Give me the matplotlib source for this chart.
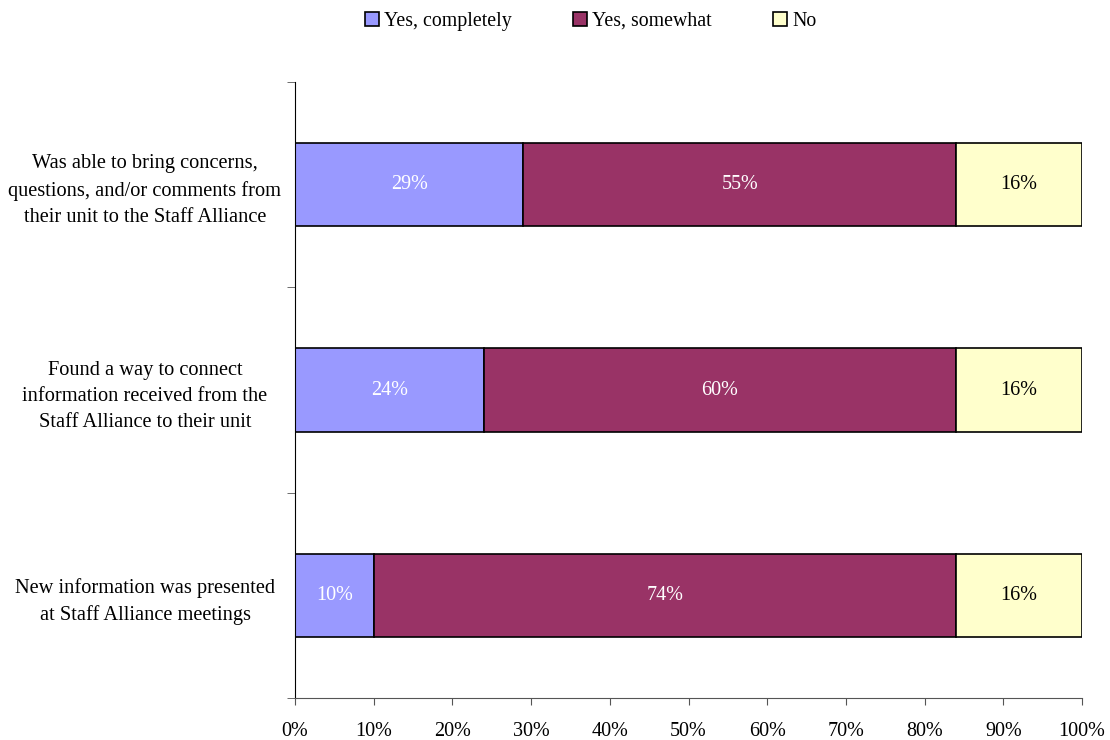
import numpy as np
import matplotlib.pyplot as plt

categories = [
    "New information was presented\nat Staff Alliance meetings",
    "Found a way to connect\ninformation received from the\nStaff Alliance to their unit",
    "Was able to bring concerns,\nquestions, and/or comments from\ntheir unit to the Staff Alliance",
]
series_names = ["Yes, completely", "Yes, somewhat", "No"]
yes_completely = [10, 24, 29]
yes_somewhat = [74, 60, 55]
no = [16, 16, 16]
colors = ["#9999FF", "#993366", "#FFFFCC"]
label_colors = ["white", "white", "black"]
x_ticks = [0, 10, 20, 30, 40, 50, 60, 70, 80, 90, 100]

plt.rcParams["font.family"] = ["Liberation Serif", "DejaVu Serif"]
plt.rcParams["font.size"] = 14

fig = plt.figure(figsize=(11.1, 7.4), dpi=100)
ax = fig.add_axes([295 / 1110, 1 - 698 / 740, 787 / 1110, 616 / 740])

y = np.arange(len(categories))
left = np.zeros(len(categories))
for vals, name, col, tcol in zip([yes_completely, yes_somewhat, no], series_names, colors, label_colors):
    vals = np.array(vals, dtype=float)
    ax.barh(y, vals, left=left, height=0.405, color=col, edgecolor="black",
            linewidth=1.2, label=name)
    for yi, l, v in zip(y, left, vals):
        ax.text(l + v / 2, yi, f"{int(v)}%", ha="center", va="center", color=tcol, fontsize=14.5)
    left += vals

ax.set_xlim(0, 100)
ax.set_ylim(-0.5, 2.5)
ax.set_xticks(x_ticks)
ax.set_xticklabels([f"{t}%" for t in x_ticks], fontsize=14.5)
ax.tick_params(axis="x", length=5, color="#555555", pad=12)
ax.set_yticks(y)
ax.set_yticklabels(categories, ha="center", linespacing=1.5, fontsize=14.7)
ax.tick_params(axis="y", which="major", length=0, pad=108)
ax.set_yticks([-0.5, 0.5, 1.5, 2.5], minor=True)
ax.tick_params(axis="y", which="minor", length=6, color="#555555")

for s in ["top", "right"]:
    ax.spines[s].set_visible(False)
ax.spines["left"].set_color("black")
ax.spines["bottom"].set_color("#555555")

fig.legend(loc="upper center", bbox_to_anchor=(0.532, 1.008), ncol=3, frameon=False,
           fontsize=14.3, handlelength=0.7, handleheight=0.7, handletextpad=0.25,
           columnspacing=3.1)

fig.savefig("out.png", dpi=100)
